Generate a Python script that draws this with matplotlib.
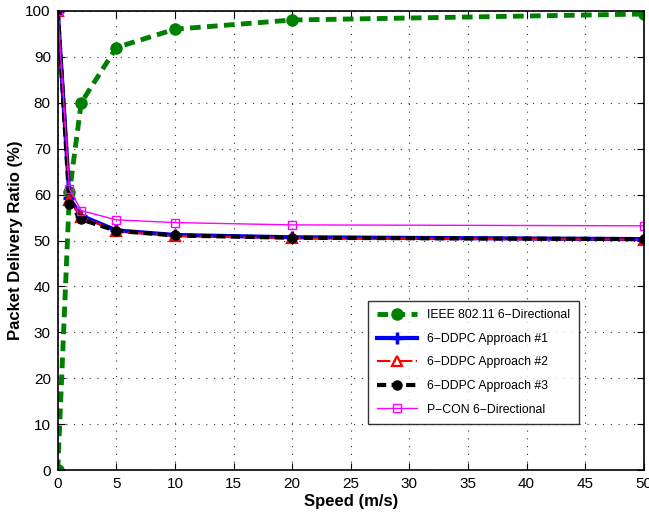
import matplotlib
matplotlib.use("Agg")
import matplotlib.pyplot as plt

plt.rcParams['font.family'] = ['Liberation Sans', 'DejaVu Sans']

speed = [0, 1, 2, 5, 10, 20, 50]
ieee = [0, 60.5, 80, 92, 96, 98, 99.3]
ddpc1 = [100, 59.2, 55.4, 52.2, 51.2, 50.7, 50.3]
ddpc2 = [100, 58.8, 55.2, 52.0, 51.0, 50.5, 50.2]
ddpc3 = [100, 57.9, 54.6, 52.1, 51.1, 50.6, 50.3]
pcon = [100, 61.2, 56.5, 54.5, 53.9, 53.4, 53.2]

fig = plt.figure(figsize=(6.49, 5.15), dpi=100)
ax = fig.add_axes([0.089, 0.087, 0.903, 0.892])

ax.plot(speed, ieee, color='#008000', lw=3.5, ls=(0, (2.2, 1.3)), marker='o', ms=8,
        mfc='#008000', mec='#008000', label='IEEE 802.11 6\u2212Directional')
ax.plot(speed, ddpc1, '-', color='blue', lw=3, marker='+', ms=8, mew=2.5,
        label='6\u2212DDPC Approach #1')
ax.plot(speed, ddpc2, '-.', color='red', lw=1.5, marker='^', ms=7, mew=1.6,
        mfc='none', mec='red', label='6\u2212DDPC Approach #2')
ax.plot(speed, ddpc3, color='black', lw=3, ls=(0, (2.2, 1.3)), marker='o', ms=6.5,
        mfc='black', label='6\u2212DDPC Approach #3')
ax.plot(speed, pcon, '-', color='magenta', lw=1, marker='s', ms=6,
        mfc='none', mec='magenta', label='P\u2212CON 6\u2212Directional')

ax.set_xlim(0, 50)
ax.set_ylim(0, 100)
ax.set_xticks(range(0, 51, 5))
ax.set_yticks(range(0, 101, 10))
ax.grid(True, linestyle=(0, (1, 6)), color='#333333', lw=0.8)
ax.tick_params(direction='in', top=True, right=True, labelsize=11, length=5, pad=5)
for s in ax.spines.values():
    s.set_linewidth(1.2)

ax.set_xlabel('Speed (m/s)', fontsize=12, fontweight='bold', labelpad=2)
ax.set_ylabel('Packet Delivery Ratio (%)', fontsize=12, fontweight='bold', labelpad=2)

leg = ax.legend(loc='lower left', bbox_to_anchor=(0.53, 0.10), borderaxespad=0,
                fontsize=8.8, frameon=True, fancybox=False, edgecolor='black',
                handlelength=3.3, labelspacing=0.95, borderpad=0.7)
leg.get_frame().set_linewidth(1.0)

fig.savefig('out.png', dpi=100)
